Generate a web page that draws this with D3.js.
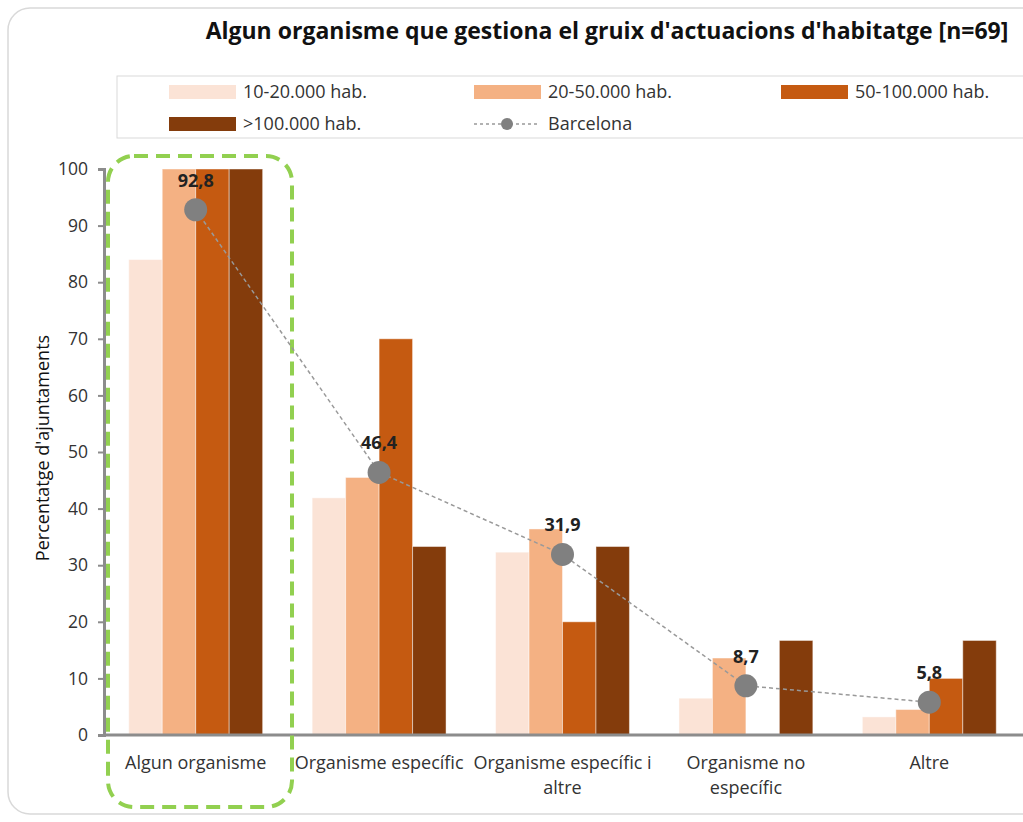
<!DOCTYPE html>
<html>
<head>
<meta charset="utf-8">
<script src="https://cdn.jsdelivr.net/npm/d3@7"></script>
<style>
  body { margin: 0; background: #fff; }
  svg { display: block; font-family: "Open Sans", sans-serif; }
</style>
</head>
<body>
<div class="chart"><svg></svg></div>
<script>
// data
var categories = ["Algun organisme", "Organisme específic", "Organisme específic i altre", "Organisme no específic", "Altre"];
var seriesNames = ["10-20.000 hab.", "20-50.000 hab.", "50-100.000 hab.", ">100.000 hab."];
var hab10to20 = [84, 41.9, 32.3, 6.5, 3.2];
var hab20to50 = [100, 45.5, 36.4, 13.6, 4.5];
var hab50to100 = [100, 70, 20, 0, 10];
var hab100plus = [100, 33.3, 33.3, 16.7, 16.7];
var barcelona = [92.8, 46.4, 31.9, 8.7, 5.8];
var yTicks = [0, 10, 20, 30, 40, 50, 60, 70, 80, 90, 100];
var colors = ["#fbe3d6", "#f4b183", "#c55a11", "#843c0c"];

var series = [hab10to20, hab20to50, hab50to100, hab100plus];
var width = 1023, height = 822;
var margin = {top: 169, right: 2, bottom: 87, left: 104};

var svg = d3.select(".chart svg")
    .attr("width", width)
    .attr("height", height);

// card behind the chart
svg.append("rect")
    .attr("x", 8).attr("y", 8)
    .attr("width", width + 20).attr("height", 806)
    .attr("rx", 22)
    .style("fill", "#fff")
    .style("stroke", "#d9d9d9")
    .style("stroke-width", 1.5);

svg.append("text")
    .text("Algun organisme que gestiona el gruix d'actuacions d'habitatge [n=69]")
    .attr("x", 607).attr("y", 39)
    .style("font-size", "23px")
    .style("font-weight", 700)
    .style("fill", "#111")
    .style("text-anchor", "middle");

// legend
var legend = svg.append("g");
legend.append("rect")
    .attr("x", 117).attr("y", 76)
    .attr("width", 920).attr("height", 62)
    .style("fill", "#fff")
    .style("stroke", "#d9d9d9");

var legendPos = [[169, 92], [474, 92], [781, 92], [169, 124]];
seriesNames.forEach(function(name, i){
    var p = legendPos[i];
    legend.append("rect")
        .attr("x", p[0]).attr("y", p[1] - 7)
        .attr("width", 67).attr("height", 14)
        .style("fill", colors[i]);
    legend.append("text")
        .text(name)
        .attr("x", p[0] + 74).attr("y", p[1] + 6)
        .style("font-size", "18px")
        .style("fill", "#333");
});
legend.append("line")
    .attr("x1", 474).attr("x2", 540)
    .attr("y1", 124).attr("y2", 124)
    .style("stroke", "#999")
    .style("stroke-width", 1.5)
    .style("stroke-dasharray", "3,3");
legend.append("circle")
    .attr("cx", 507).attr("cy", 124).attr("r", 6)
    .style("fill", "#808080");
legend.append("text")
    .text("Barcelona")
    .attr("x", 548).attr("y", 130)
    .style("font-size", "18px")
    .style("fill", "#333");

var x = d3.scaleBand()
    .domain(categories)
    .range([margin.left, width - margin.right])
    .paddingInner(0.27)
    .paddingOuter(0.135);

var xInner = d3.scaleBand()
    .domain(d3.range(series.length))
    .range([0, x.bandwidth()]);

var y = d3.scaleLinear()
    .domain([0, 100])
    .range([height - margin.bottom, margin.top]);

// bars
var groups = svg.append("g").selectAll("g")
    .data(series)
    .join("g")
    .style("fill", function(d, i){ return colors[i]; });

groups.each(function(vals, si){
    d3.select(this).selectAll("rect")
        .data(vals)
        .join("rect")
        .attr("x", function(d, ci){ return x(categories[ci]) + xInner(si); })
        .attr("y", function(d){ return y(d); })
        .attr("width", xInner.bandwidth())
        .attr("height", function(d){ return y(0) - y(d); })
        .style("stroke", "rgba(255,255,255,0.45)")
        .style("stroke-width", 1);
});

// y axis
var yAxis = svg.append("g")
    .attr("transform", "translate(" + margin.left + ",0)")
    .call(d3.axisLeft(y).tickValues(yTicks).tickSize(6).tickPadding(10));
yAxis.select(".domain").style("stroke", "#8c8c8c").style("stroke-width", 3);
yAxis.selectAll(".tick line").style("stroke", "#8c8c8c").style("stroke-width", 2);
yAxis.selectAll(".tick text")
    .style("font-size", "17.5px")
    .style("fill", "#333")
    .style("font-family", "Open Sans, sans-serif");

svg.append("text")
    .text("Percentatge d'ajuntaments")
    .attr("transform", "translate(49," + (y(50) - 4) + ") rotate(-90)")
    .style("font-size", "18px")
    .style("fill", "#111")
    .style("text-anchor", "middle");

// x axis
var xAxis = svg.append("g")
    .attr("transform", "translate(0," + y(0) + ")")
    .call(d3.axisBottom(x).tickSize(0).tickPadding(21).tickSizeOuter(0));
xAxis.select(".domain")
    .attr("d", "M" + margin.left + ",0H" + width)
    .style("stroke", "#8c8c8c").style("stroke-width", 3);
xAxis.selectAll(".tick text")
    .style("font-size", "18px")
    .style("fill", "#333")
    .style("font-family", "Open Sans, sans-serif")
    .call(wrap, 186);

function wrap(text, w){
    text.each(function(){
        var t = d3.select(this);
        var words = t.text().split(" ");
        var yy = t.attr("y"), dy = parseFloat(t.attr("dy"));
        var line = [];
        var lineNo = 0;
        var tspan = t.text(null).append("tspan").attr("x", 0).attr("y", yy).attr("dy", dy + "em");
        words.forEach(function(word){
            line.push(word);
            tspan.text(line.join(" "));
            if (tspan.node().getComputedTextLength() > w && line.length > 1){
                line.pop();
                tspan.text(line.join(" "));
                line = [word];
                lineNo++;
                tspan = t.append("tspan").attr("x", 0).attr("y", yy)
                    .attr("dy", (lineNo * 1.4 + dy) + "em").text(word);
            }
        });
    });
}

// highlight around first category
svg.append("rect")
    .attr("x", 108).attr("y", 156)
    .attr("width", 184).attr("height", 651)
    .attr("rx", 26)
    .style("fill", "none")
    .style("stroke", "#92d050")
    .style("stroke-width", 4)
    .style("stroke-dasharray", "14,8");

// Barcelona line
var line = d3.line()
    .x(function(d, i){ return x(categories[i]) + x.bandwidth() / 2; })
    .y(function(d){ return y(d); });

svg.append("path")
    .datum(barcelona)
    .attr("d", line)
    .style("fill", "none")
    .style("stroke", "#999")
    .style("stroke-width", 1.5)
    .style("stroke-dasharray", "4,3");

svg.append("g").selectAll("circle")
    .data(barcelona)
    .join("circle")
    .attr("cx", function(d, i){ return x(categories[i]) + x.bandwidth() / 2; })
    .attr("cy", function(d){ return y(d); })
    .attr("r", 11.5)
    .style("fill", "#808080");

svg.append("g").selectAll("text")
    .data(barcelona)
    .join("text")
    .text(function(d){ return d.toFixed(1).replace(".", ","); })
    .attr("x", function(d, i){ return x(categories[i]) + x.bandwidth() / 2; })
    .attr("y", function(d){ return y(d) - 23; })
    .style("font-size", "18px")
    .style("font-weight", 700)
    .style("fill", "#222")
    .style("text-anchor", "middle");
</script>
</body>
</html>
